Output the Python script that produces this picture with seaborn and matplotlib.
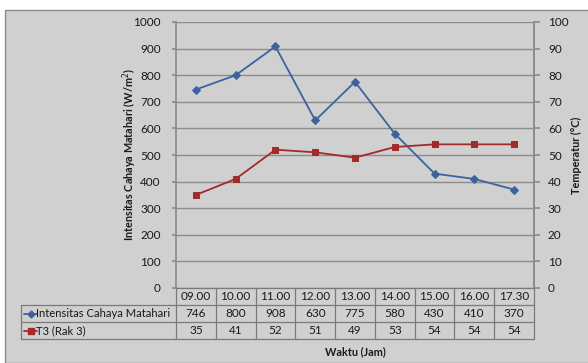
import matplotlib
matplotlib.use("Agg")
import matplotlib.pyplot as plt
from matplotlib.lines import Line2D
from matplotlib.patches import Rectangle
import seaborn as sns
import pandas as pd

# Data
waktu = ["09.00", "10.00", "11.00", "12.00", "13.00", "14.00", "15.00", "16.00", "17.30"]
intensitas = [746, 800, 908, 630, 775, 580, 430, 410, 370]
suhu_t3 = [35, 41, 52, 51, 49, 53, 54, 54, 54]
nama_seri = ["Intensitas Cahaya Matahari", "T3 (Rak 3)"]

BLUE = "#3c63a0"
RED = "#a32a2a"
BG = "#d0d0d0"
GRID = "#8c8c8c"
TXT = "#1a1a1a"

sns.set_theme(style="white")
plt.rcParams["font.family"] = ["Lato", "DejaVu Sans"]

W, H = 588, 363
fig = plt.figure(figsize=(W / 100, H / 100), dpi=100, facecolor="white")


def fx(px):
    return px / W


def fy(py):
    return 1 - py / H


# outer chart frame
fig.patches.append(Rectangle((fx(5), fy(363)), fx(590) - fx(5), fy(10) - fy(363),
                             transform=fig.transFigure, facecolor=BG,
                             edgecolor="#8a8a8a", lw=1.0, zorder=-5))

L, R, T, B = 176, 534, 22, 288
ax = fig.add_axes([fx(L), fy(B), fx(R) - fx(L), fy(T) - fy(B)])
ax.set_facecolor(BG)

df = pd.DataFrame({"idx": range(len(waktu)), "intensitas": intensitas, "suhu": suhu_t3})

sns.lineplot(data=df, x="idx", y="intensitas", ax=ax, color=BLUE, lw=1.3,
             marker="D", markersize=4, markeredgecolor=BLUE, zorder=3)
ax.set_xlim(-0.5, len(waktu) - 0.5)
ax.set_ylim(0, 1000)
ax.set_yticks(range(0, 1001, 100))
ax.set_xticks([])
ax.set_xlabel("")
ax.set_ylabel("")
ax.grid(axis="y", color=GRID, lw=1.0)
ax.set_axisbelow(True)
for s in ["top", "bottom"]:
    ax.spines[s].set_visible(False)
ax.spines["left"].set_color(GRID)
ax.spines["right"].set_color(GRID)
ax.tick_params(axis="y", length=3, color=GRID, labelsize=8.5, labelcolor=TXT, pad=8)

ax2 = ax.twinx()
sns.lineplot(data=df, x="idx", y="suhu", ax=ax2, color=RED, lw=1.3,
             marker="s", markersize=5, markeredgecolor=RED, zorder=3)
ax2.set_ylim(0, 100)
ax2.set_yticks(range(0, 101, 10))
ax2.set_ylabel("")
ax2.set_xticks([])
ax2.set_xlabel("")
for s in ["top", "bottom", "left"]:
    ax2.spines[s].set_visible(False)
ax2.spines["right"].set_color(GRID)
ax2.tick_params(axis="y", length=4, color=GRID, labelsize=8.5, labelcolor=TXT, pad=6)
ax2.set_xlim(-0.5, len(waktu) - 0.5)

# axis titles
fig.text(fx(130), fy(155), "Intensitas Cahaya Matahari (W/m$^2$)", rotation=90,
         ha="center", va="center", fontsize=7.8, fontweight="bold", color=TXT)
fig.text(fx(576), fy(155), "Temperatur (\u00b0C)", rotation=90,
         ha="center", va="center", fontsize=7.8, fontweight="bold", color=TXT)
fig.text(fx(355), fy(352), "Waktu (Jam)", ha="center", va="center",
         fontsize=7.8, fontweight="bold", color=TXT)

# data table below the plot
rows_y = [288, 305, 322, 339]
col_w = (R - L) / len(waktu)
LEG_L = 21
tcol = "#7a7a7a"
lines = []
lines.append(([L, R], [rows_y[0], rows_y[0]]))
for y in rows_y[1:]:
    lines.append(([LEG_L, R], [y, y]))
for i in range(len(waktu) + 1):
    x = L + i * col_w
    lines.append(([x, x], [rows_y[0], rows_y[3]]))
lines.append(([LEG_L, LEG_L], [rows_y[1], rows_y[3]]))
for xs, ys in lines:
    fig.add_artist(Line2D([fx(v) for v in xs], [fy(v) for v in ys],
                          transform=fig.transFigure, color=tcol, lw=0.9))

for i, w in enumerate(waktu):
    cx = L + (i + 0.5) * col_w
    fig.text(fx(cx), fy((rows_y[0] + rows_y[1]) / 2), w, ha="center", va="center",
             fontsize=8.5, color=TXT)
    fig.text(fx(cx), fy((rows_y[1] + rows_y[2]) / 2), str(intensitas[i]), ha="center",
             va="center", fontsize=8.5, color=TXT)
    fig.text(fx(cx), fy((rows_y[2] + rows_y[3]) / 2), str(suhu_t3[i]), ha="center",
             va="center", fontsize=8.5, color=TXT)

# legend keys inside the table
for r, (name, col, mk, ms) in enumerate([(nama_seri[0], BLUE, "D", 3.5),
                                          (nama_seri[1], RED, "s", 4.5)]):
    yc = (rows_y[r + 1] + rows_y[r + 2]) / 2
    fig.add_artist(Line2D([fx(24), fx(37)], [fy(yc), fy(yc)], transform=fig.transFigure,
                          color=col, lw=1.3))
    fig.add_artist(Line2D([fx(30.5)], [fy(yc)], transform=fig.transFigure, color=col,
                          marker=mk, markersize=ms, markeredgecolor=col, lw=0))
    fig.text(fx(36.5), fy(yc), name, ha="left", va="center", fontsize=8.1, color=TXT)

fig.savefig("out.png", dpi=100, facecolor="white")
